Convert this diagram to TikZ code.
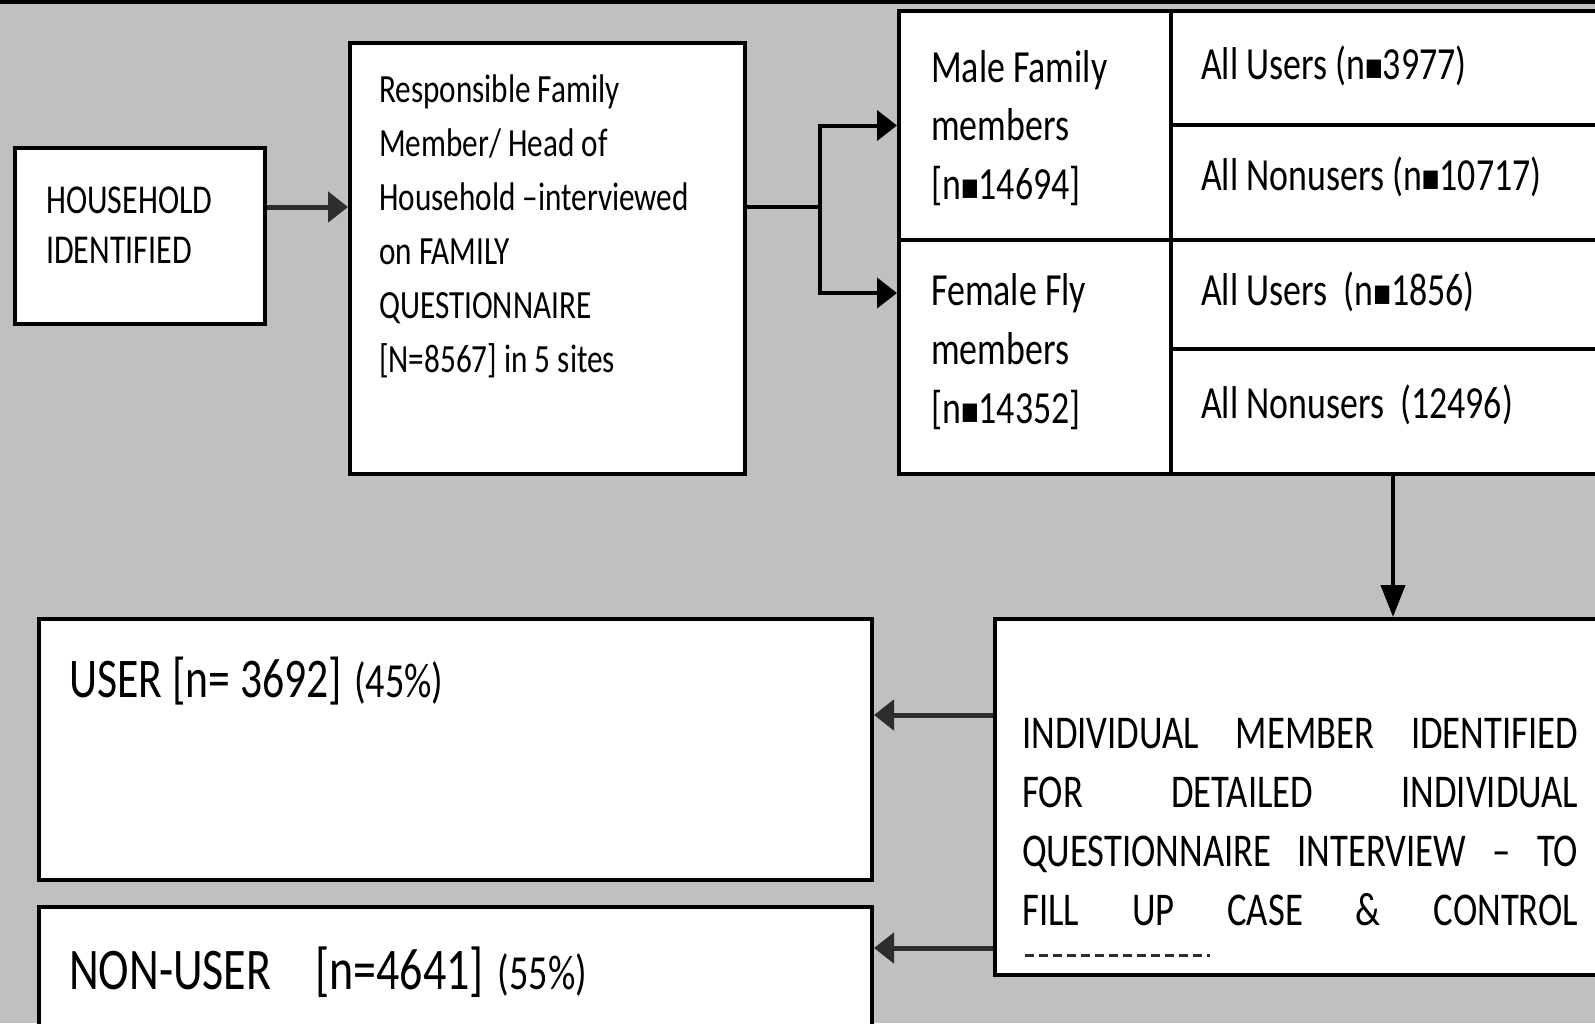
\documentclass[tikz,border=0pt]{standalone}
\usepackage{fontspec}
\setmainfont{Carlito}[FakeStretch=0.78]
\newfontfamily\dvfont{DejaVu Sans}[FakeStretch=0.78]
\usetikzlibrary{arrows.meta}
\definecolor{bg}{RGB}{192,192,192}
\definecolor{ln}{RGB}{45,45,45}
\newcommand\myfs[2]{\fontsize{#1}{#2}\selectfont}
\newcommand\blk{\raisebox{4pt}{\dvfont\myfs{24}{24}■}}
\begin{document}
\begin{tikzpicture}[x=1pt,y=-1pt,
  box/.style={draw=black, fill=white, line width=4pt, inner sep=0pt, anchor=north west},
  txt/.style={anchor=base west, inner sep=0pt, align=left},
  conn/.style={line width=4pt, black},
  conn2/.style={line width=5pt, ln},
  harr/.style={-{Triangle[length=20pt,width=30pt]}},
  varr/.style={-{Triangle[length=32pt,width=24pt]}}]
\useasboundingbox (0,0) rectangle (1595,1023);
\fill[bg] (0,0) rectangle (1595,1023);
\fill[black] (0,0) rectangle (1595,3.5);

% boxes
\node[box, minimum width=250pt, minimum height=176pt] (hh) at (13,146) {};
\node[box, minimum width=395pt, minimum height=431pt] (resp) at (348,41) {};
\node[box, minimum width=272pt, minimum height=229pt] (male) at (897,9) {};
\node[box, minimum width=272pt, minimum height=234pt] (female) at (897,238) {};
\node[box, minimum width=460pt, minimum height=114pt] (mu) at (1169,9) {};
\node[box, minimum width=460pt, minimum height=115pt] (mn) at (1169,123) {};
\node[box, minimum width=460pt, minimum height=109pt] (fu) at (1169,238) {};
\node[box, minimum width=460pt, minimum height=125pt] (fn) at (1169,347) {};
\node[box, minimum width=833pt, minimum height=261pt] (user) at (37,617) {};
\node[box, minimum width=833pt, minimum height=160pt] (nonuser) at (37,905) {};
\node[box, minimum width=640pt, minimum height=356pt] (indiv) at (993,617) {};

% texts (multi-line nodes: base = baseline of last line)
\node[txt, font=\myfs{41}{50}] (thh) at (46,263) {HOUSEHOLD\\IDENTIFIED};
\node[txt, font=\myfs{40}{54}] (tresp) at (379,372) {Responsible Family\\Member/ Head of\\Household –interviewed\\on FAMILY\\QUESTIONNAIRE\\{[N=8567]} in 5 sites};
\node[txt, font=\myfs{46}{58.5}] (tmale) at (931,199) {Male Family\\members\\{[n\blk14694]}};
\node[txt, font=\myfs{46}{59}] (tfemale) at (931,423) {Female Fly\\members\\{[n\blk14352]}};
\node[txt, font=\myfs{46}{46}] (tmu) at (1201,79) {All Users (n\blk3977)};
\node[txt, font=\myfs{46}{46}] (tmn) at (1201,190) {All Nonusers (n\blk10717)};
\node[txt, font=\myfs{46}{46}] (tfu) at (1201,305) {All Users\ \ (n\blk1856)};
\node[txt, font=\myfs{46}{46}] (tfn) at (1201,418) {All Nonusers\ \ (12496)};
\node[txt, font=\myfs{56}{56}] (tuser) at (69,697) {USER [n= 3692]\hspace{12pt}{\myfs{49}{49}(45\%)}};
\node[txt, font=\myfs{59}{59}] (tnon) at (69,989) {NON-USER\hspace{44pt}[n=4641]\hspace{14pt}{\myfs{49}{49}(55\%)}};
\node[txt, font=\myfs{47}{59}] (tind) at (1022,925) {%
\makebox[556pt][s]{INDIVIDUAL MEMBER IDENTIFIED}\\
\makebox[556pt][s]{FOR DETAILED INDIVIDUAL}\\
\makebox[556pt][s]{QUESTIONNAIRE INTERVIEW – TO}\\
\makebox[556pt][s]{FILL UP CASE \& CONTROL}};
\draw[line width=3pt, ln, dash pattern=on 9pt off 5pt] (1025,955) -- (1210,955);

% connectors
\coordinate (y207) at (0,207);
\coordinate (y293) at (0,293);
\coordinate (y715) at (0,715);
\coordinate (y948) at (0,948);
\coordinate (br) at (820,207);
\coordinate (dx) at (1393,0);
\draw[conn2, harr] (hh.east |- y207) -- (resp.west |- y207);
\draw[conn] (resp.east |- y207) -- (br);
\draw[conn, harr] (br) |- (male.west);
\draw[conn, harr] (br) |- (female.west |- y293);
\draw[conn, varr] (fn.south -| dx) -- (indiv.north -| dx);
\draw[conn2, harr] (indiv.west |- y715) -- (user.east |- y715);
\draw[conn2, harr] (indiv.west |- y948) -- (nonuser.east |- y948);
\end{tikzpicture}
\end{document}
